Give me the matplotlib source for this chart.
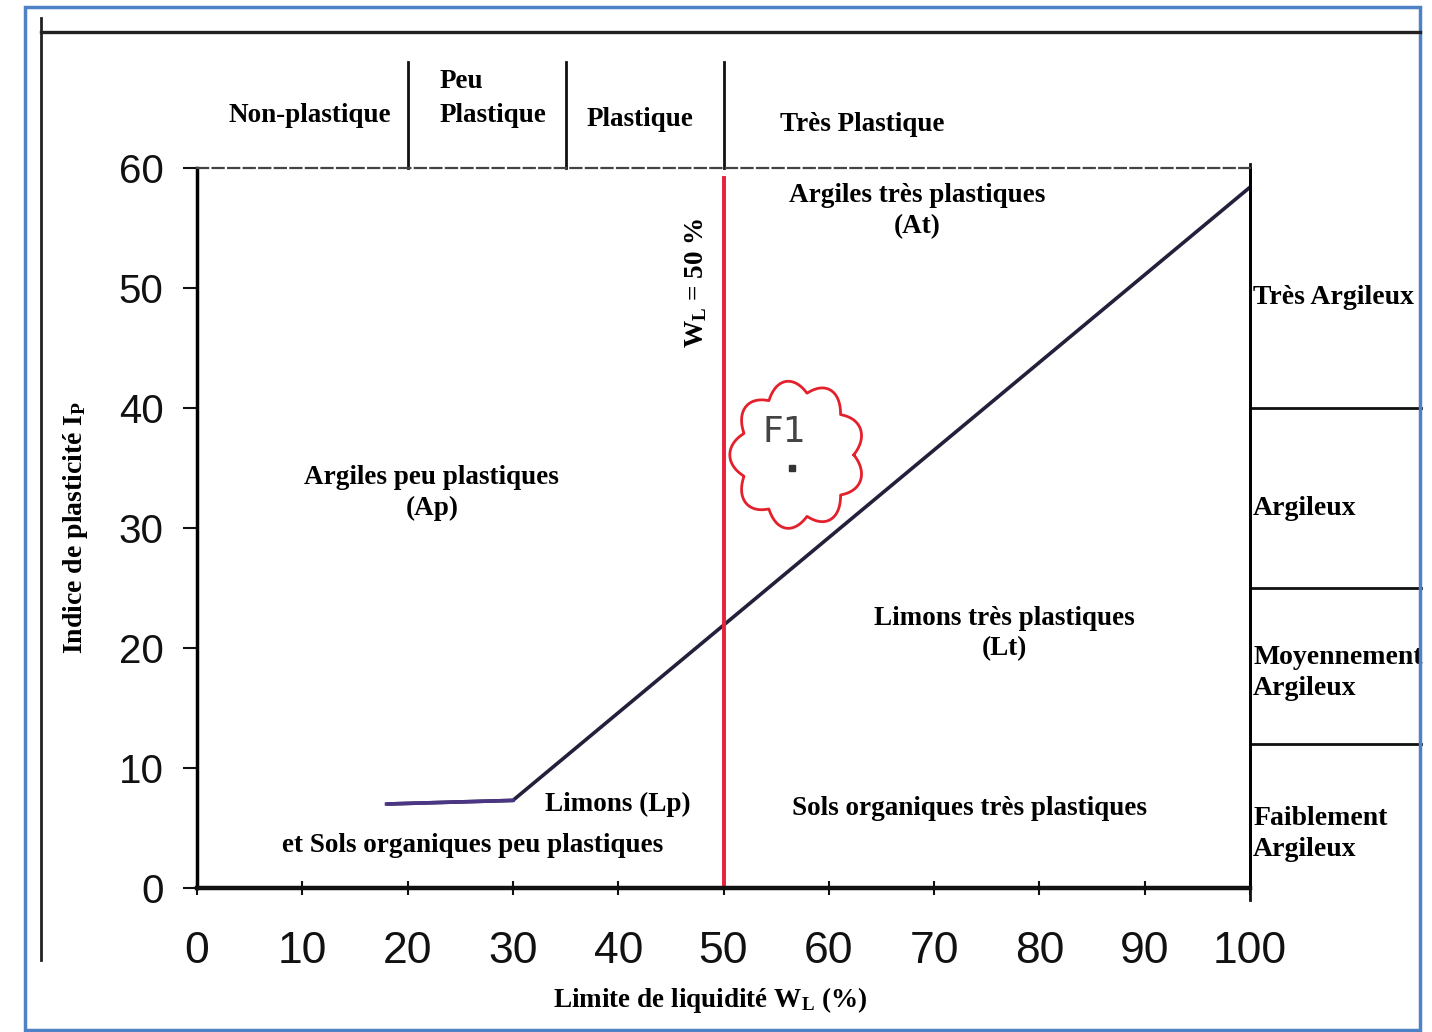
import numpy as np
import matplotlib
matplotlib.use('Agg')
import matplotlib.pyplot as plt
from matplotlib.lines import Line2D
from matplotlib.patches import Rectangle

# polices : serif gras pour les libellés, sans pour les graduations
plt.rcParams['font.family'] = ['Liberation Serif', 'DejaVu Serif']
plt.rcParams['mathtext.fontset'] = 'custom'
plt.rcParams['mathtext.rm'] = 'Liberation Serif:bold'
plt.rcParams['mathtext.it'] = 'Liberation Serif:bold'
plt.rcParams['mathtext.bf'] = 'Liberation Serif:bold'

# --- données de l'abaque de Casagrande ---
x_ticks = [0, 10, 20, 30, 40, 50, 60, 70, 80, 90, 100]
y_ticks = [0, 10, 20, 30, 40, 50, 60]

a_line_wl = [18, 30, 100]        # ligne A
a_line_ip = [7, 7.3, 58.4]

wl_limit = 50                    # W_L = 50 %
plast_bounds = [20, 35, 50]      # limites des classes de plasticité
plast_labels = ['Non-plastique', 'Peu\nPlastique', 'Plastique', 'Très Plastique']
plast_x = [10.7, 23.0, 42.1, 63.2]
plast_y = [64.4, 65.8, 64.0, 63.6]
plast_ha = ['center', 'left', 'center', 'center']

argil_bounds = [40, 25, 12]      # degré argileux (Ip)
argil_labels = ['Très Argileux', 'Argileux', 'Moyennement\nArgileux', 'Faiblement\nArgileux']
argil_y = [49.2, 31.6, 17.9, 4.5]

zone_labels = ['Argiles très plastiques\n(At)', 'Argiles peu plastiques\n(Ap)',
               'Limons très plastiques\n(Lt)', 'Limons (Lp)',
               'et Sols organiques peu plastiques', 'Sols organiques très plastiques']
zone_x = [68.4, 22.3, 76.7, 40.0, 26.2, 73.4]
zone_y = [56.4, 32.9, 21.2, 7.0, 3.5, 6.6]

f1_wl = 56.5
f1_ip = 35.0

W, H = 1432, 1032
fig = plt.figure(figsize=(W / 100, H / 100), dpi=100)
fig.patch.set_facecolor('white')

# axes : 0 -> 197 px, 100 -> 1250 px ; Ip 0 -> 888 px, 60 -> 168 px
x0, x1, y0, y1 = 197, 1250, 888, 168
ax = fig.add_axes([x0 / W, 1 - y0 / H, (x1 - x0) / W, (y0 - y1) / H])
ax.set_xlim(0, 100)
ax.set_ylim(0, 60)
ax.set_xticks(x_ticks)
ax.set_yticks(y_ticks)
ax.tick_params(axis='y', direction='out', length=10, width=1.5, pad=14,
               labelsize=29, colors='#111')
ax.tick_params(axis='x', direction='inout', length=10, width=1.5, pad=26,
               labelsize=32, colors='#111')
for lab in ax.get_yticklabels() + ax.get_xticklabels():
    lab.set_fontfamily('Liberation Sans')

ax.spines['left'].set_linewidth(2.5)
ax.spines['bottom'].set_linewidth(3.2)
ax.spines['right'].set_linewidth(2.0)
ax.spines['top'].set_linewidth(1.6)
ax.spines['top'].set_linestyle((0, (5, 2)))
ax.spines['top'].set_color('#444')
ax.spines['bottom'].set_color('#111')

# ligne A et limite W_L = 50 %
ax.plot(a_line_wl, a_line_ip, color='#22203a', lw=2.6, solid_capstyle='butt')
ax.plot(a_line_wl[:2], a_line_ip[:2], color='#4b3585', lw=2.6)
ax.plot([wl_limit, wl_limit], [0, 59.2], color='#e8203c', lw=2.8)
ax.text(47.4, 50.4, r'W$_L$ = 50 %', rotation=90, ha='center', va='center',
        fontsize=19.5, fontweight='bold')

# classes de plasticité au-dessus du cadre
for b in plast_bounds:
    ax.plot([b, b], [60, 68.8], color='#111', lw=2.0, clip_on=False)
for lab, px, py, ha in zip(plast_labels, plast_x, plast_y, plast_ha):
    ax.text(px, py, lab, ha=ha, va='center', fontsize=19.5, fontweight='bold',
            linespacing=1.45, clip_on=False)

# degré argileux à droite
for b in argil_bounds:
    ax.plot([100, 116.2], [b, b], color='#111', lw=2.0, clip_on=False)
ax.plot([100, 100], [60.3, -1.0], color='#111', lw=2.0, clip_on=False)
for lab, py in zip(argil_labels, argil_y):
    ax.text(100.3, py, lab, ha='left', va='center', fontsize=20, fontweight='bold',
            linespacing=1.3, clip_on=False)

# noms des zones
for lab, px, py in zip(zone_labels, zone_x, zone_y):
    ax.text(px, py, lab, ha='center', va='center', fontsize=19.5, fontweight='bold',
            linespacing=1.3)

# échantillon F1 entouré d'un nuage
ax.plot([f1_wl], [f1_ip], marker='s', ms=5, color='#333', ls='none')
ax.text(f1_wl - 0.75, f1_ip + 3.0, 'F1', ha='center', va='center', fontsize=26,
        fontfamily='DejaVu Sans', color='#444')
t = np.linspace(0, 2 * np.pi, 900)
r = 0.84 + 0.16 * np.abs(np.sin(4.5 * t))
ax.plot(f1_wl + 0.5 + 6.4 * r * np.cos(t), f1_ip + 1.1 + 6.2 * r * np.sin(t),
        color='#e3202c', lw=2.0, clip_on=False)

# titres des axes
fig.text(75 / W, 1 - 527 / H, r'Indice de plasticité I$_P$', rotation=90,
         ha='center', va='center', fontsize=20, fontweight='bold')
fig.text(710 / W, 1 - 1000 / H, r'Limite de liquidité W$_L$ (%)',
         ha='center', va='center', fontsize=19.5, fontweight='bold')

# cadre de la page et bordure bleue
fig.add_artist(Line2D([41 / W, 41 / W], [1 - 18 / H, 1 - 960 / H],
                      transform=fig.transFigure, color='#222', lw=2.0))
fig.add_artist(Line2D([41 / W, 1420 / W], [1 - 32 / H, 1 - 32 / H],
                      transform=fig.transFigure, color='#222', lw=2.4))
fig.add_artist(Rectangle((25 / W, 1 - 1030 / H), 1395 / W, 1023 / H,
                         transform=fig.transFigure, fill=False,
                         edgecolor='#4f81c7', lw=2.5))

plt.savefig('out.png', dpi=100)
